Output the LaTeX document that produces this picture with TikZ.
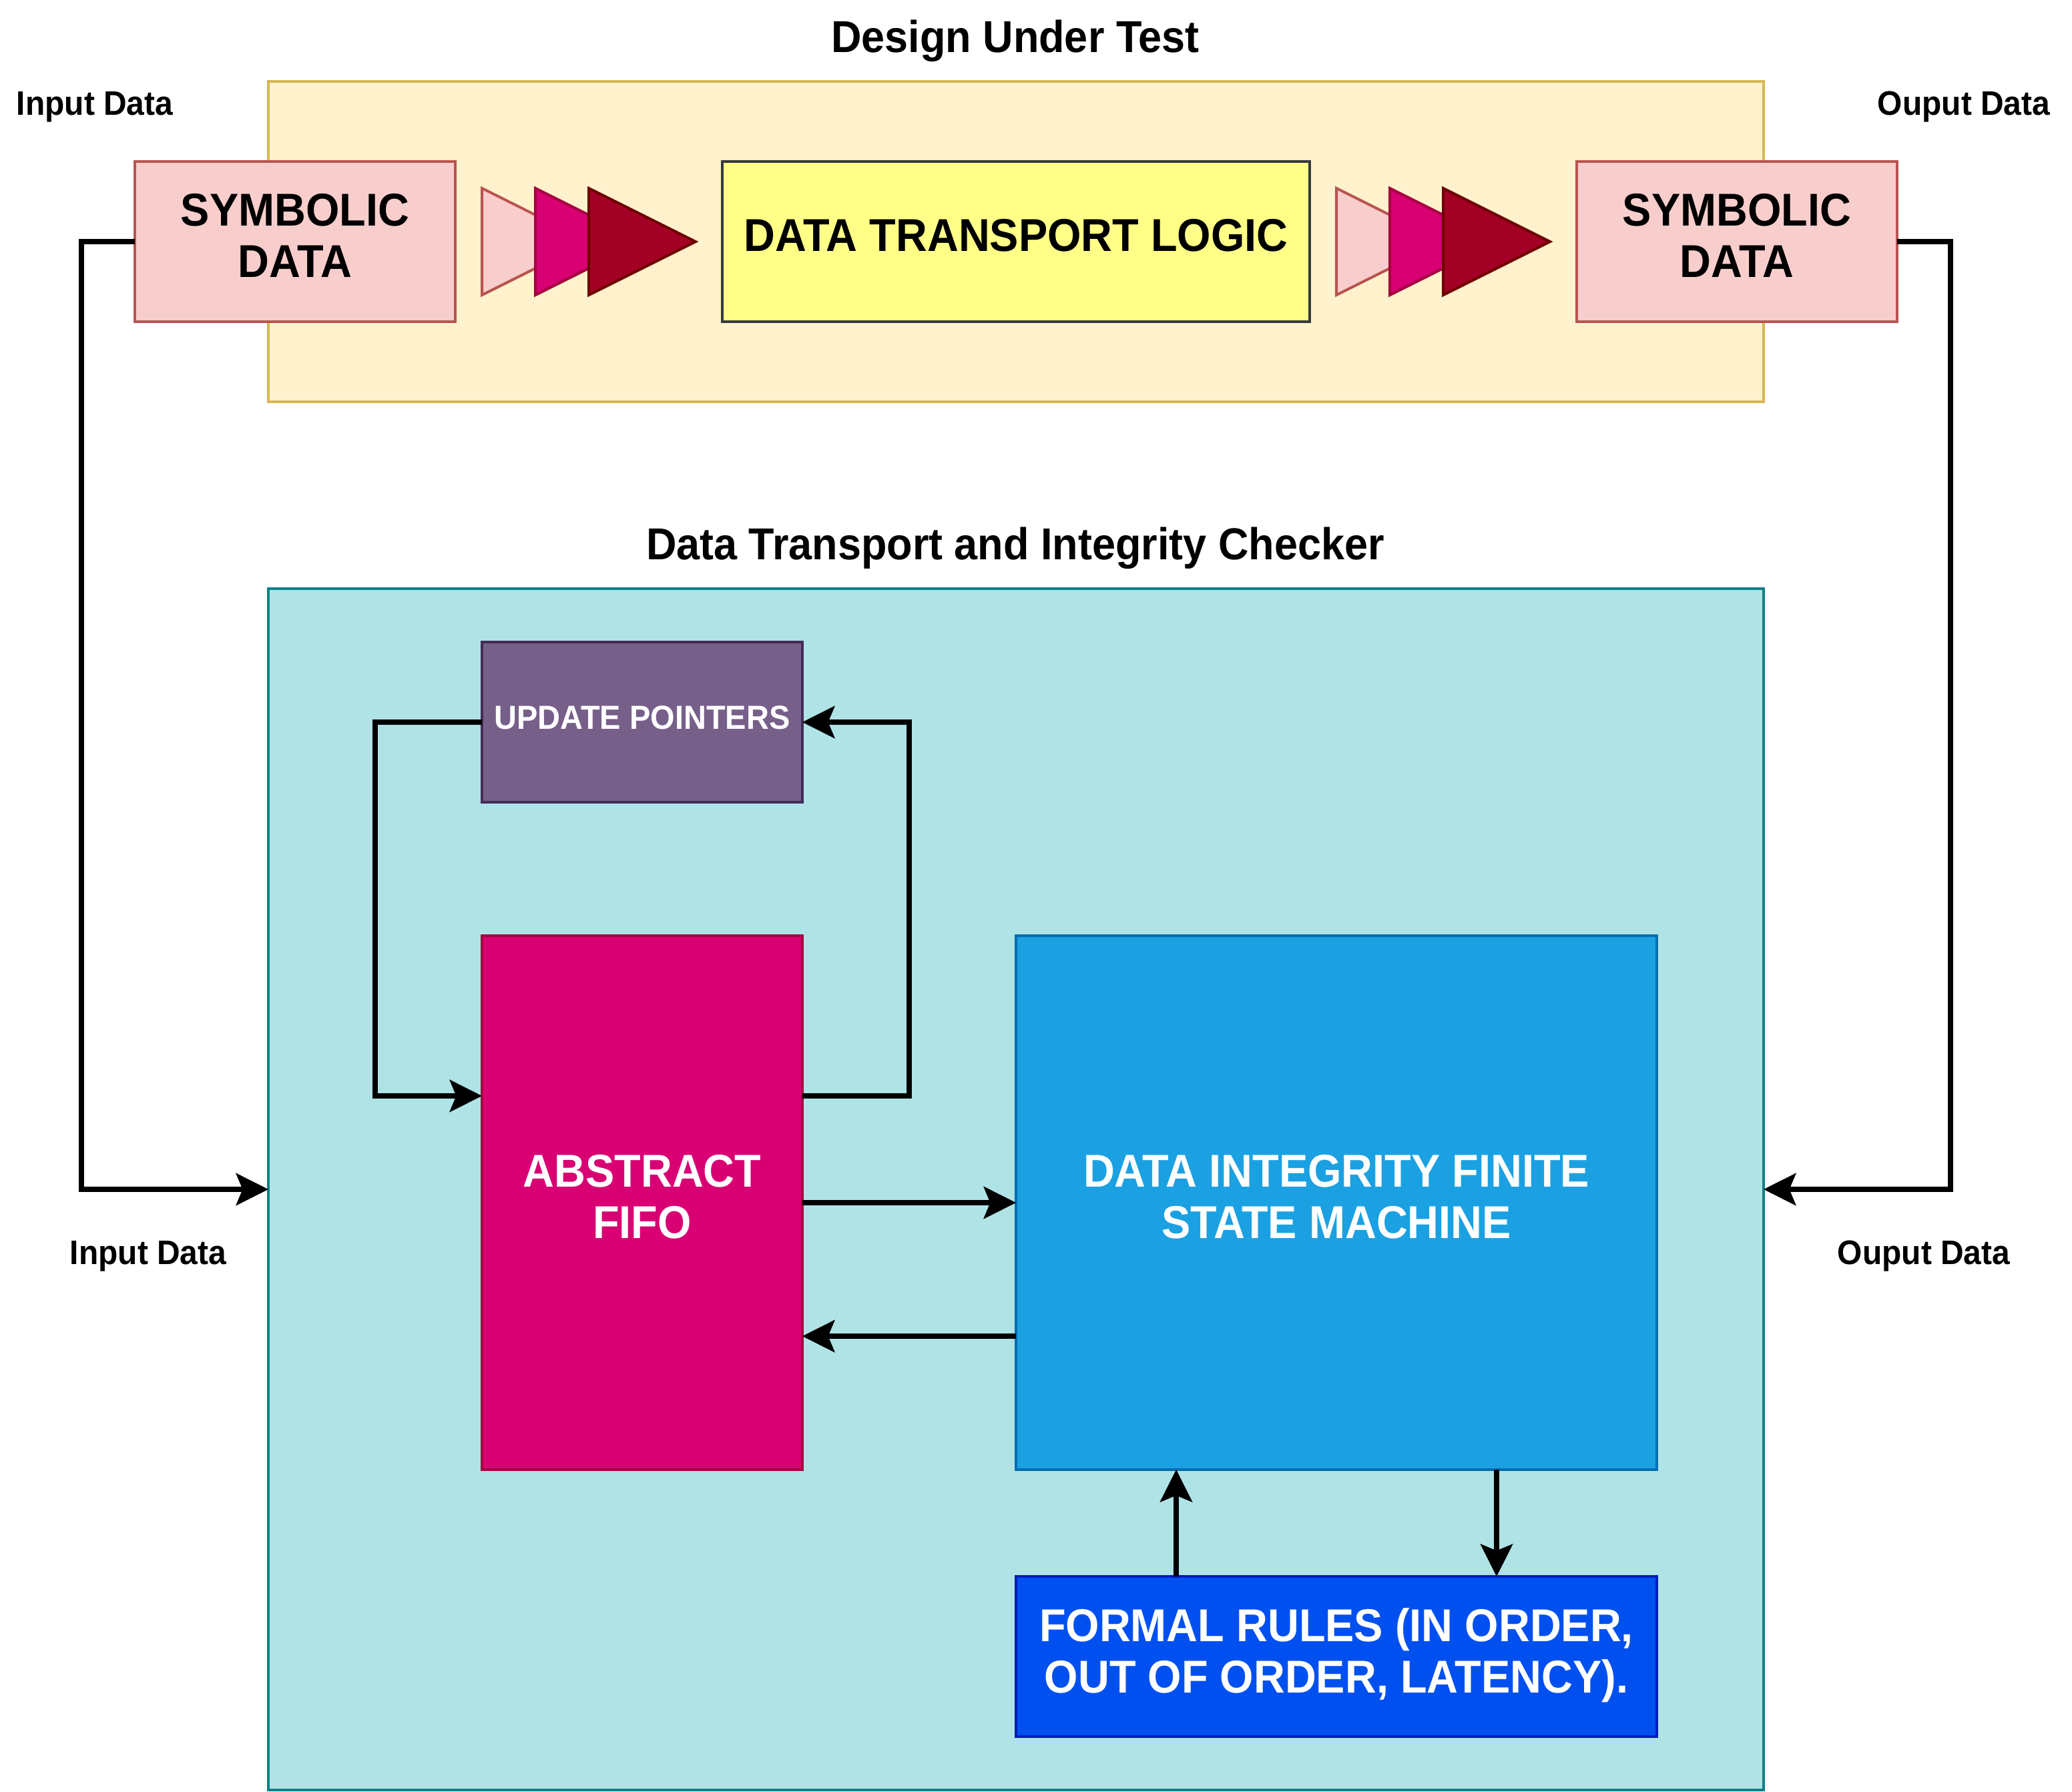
\documentclass[tikz,border=0pt]{standalone}
\usepackage{fontspec}
\setmainfont{Liberation Sans}[FakeStretch=0.94]
\usetikzlibrary{arrows.meta,calc}
\definecolor{dutfill}{HTML}{FFF2CC}
\definecolor{dutline}{HTML}{D6B656}
\definecolor{symfill}{HTML}{F8CECC}
\definecolor{symline}{HTML}{B85450}
\definecolor{magfill}{HTML}{D80073}
\definecolor{magline}{HTML}{A50040}
\definecolor{redfill}{HTML}{A20025}
\definecolor{redline}{HTML}{6F0000}
\definecolor{dtlfill}{HTML}{FFFF88}
\definecolor{dtlline}{HTML}{36393D}
\definecolor{chkfill}{HTML}{B0E3E6}
\definecolor{chkline}{HTML}{0E8088}
\definecolor{updfill}{HTML}{76608A}
\definecolor{updline}{HTML}{432D57}
\definecolor{fsmfill}{HTML}{1BA1E2}
\definecolor{fsmline}{HTML}{006EAF}
\definecolor{rulfill}{HTML}{0050EF}
\definecolor{rulline}{HTML}{001DBC}
\begin{document}
\begin{tikzpicture}[x=1pt,y=-1pt,
  box/.style={rectangle,draw,line width=2pt,inner sep=0pt,outer sep=0pt},
  boxlbl/.style={font=\fontsize{34.5}{38.4}\selectfont\bfseries,align=center,inner sep=0pt},
  smalllbl/.style={font=\fontsize{25.5}{30}\selectfont\bfseries,inner sep=0pt,anchor=base},
  titlelbl/.style={font=\fontsize{33.5}{40}\selectfont\bfseries,inner sep=0pt,anchor=base},
  conn/.style={line width=3.8pt,line join=miter,-{Stealth[length=24.5pt,width=24.7pt,inset=5.2pt,line width=0pt]}},
  tri/.style={line width=2pt,line join=miter},
]
\fill[white] (0,0) rectangle (1552,1342);
\useasboundingbox (0,0) rectangle (1552,1342);

% containers
\node[box,draw=dutline,fill=dutfill,minimum width=1120pt,minimum height=240pt] (dut) at (761,181) {};
\node[titlelbl] (duttitle) at (760.5,39) {Design Under Test};
\node[box,draw=chkline,fill=chkfill,minimum width=1120pt,minimum height=900pt] (chk) at (761,891) {};
\node[titlelbl] (chktitle) at (760.5,419) {Data Transport and Integrity Checker};

% top row
\node[box,draw=symline,fill=symfill,minimum width=240pt,minimum height=120pt] (symL) at (221,181) {};
\node[boxlbl] (symLtxt) at ([yshift=4.5pt]symL.center) {SYMBOLIC\\DATA};
\node[box,draw=dtlline,fill=dtlfill,minimum width=440pt,minimum height=120pt] (dtl) at (761,181) {};
\node[boxlbl] (dtltxt) at ([yshift=4.5pt]dtl.center) {DATA TRANSPORT LOGIC};
\node[box,draw=symline,fill=symfill,minimum width=240pt,minimum height=120pt] (symR) at (1301,181) {};
\node[boxlbl] (symRtxt) at ([yshift=4.5pt]symR.center) {SYMBOLIC\\DATA};

\foreach \x/\f/\d in {361/symfill/symline,401/magfill/magline,441/redfill/redline,1001/symfill/symline,1041/magfill/magline,1081/redfill/redline}{
  \filldraw[tri,fill=\f,draw=\d] (\x,141) -- (\x+80,181) -- (\x,221) -- cycle;
}

% checker contents
\node[box,draw=updline,fill=updfill,minimum width=240pt,minimum height=120pt] (upd) at (481,541) {};
\node[boxlbl,text=white,font=\fontsize{25}{30}\selectfont\bfseries] (updtxt) at ([yshift=3.5pt]upd.center) {UPDATE POINTERS};
\node[box,draw=magline,fill=magfill,minimum width=240pt,minimum height=400pt] (fifo) at (481,901) {};
\node[boxlbl,text=white] (fifotxt) at ([yshift=4.5pt]fifo.center) {ABSTRACT\\FIFO};
\node[box,draw=fsmline,fill=fsmfill,minimum width=480pt,minimum height=400pt] (fsm) at (1001,901) {};
\node[boxlbl,text=white] (fsmtxt) at ([yshift=4.5pt]fsm.center) {DATA INTEGRITY FINITE\\STATE MACHINE};
\node[box,draw=rulline,fill=rulfill,minimum width=480pt,minimum height=120pt] (rules) at (1001,1241) {};
\node[boxlbl,text=white] (rulestxt) at ([yshift=1pt]rules.center) {FORMAL RULES (IN ORDER,\\OUT OF ORDER, LATENCY).};

% side labels
\node[smalllbl] (inTop) at (71,86) {Input Data};
\node[smalllbl] (outTop) at (1471,86) {Ouput Data};
\node[smalllbl] (inBot) at (111,947) {Input Data};
\node[smalllbl] (outBot) at (1441,947) {Ouput Data};

% connectors
\draw[conn] (symL.west) -- ++(-40,0) |- (chk.west);
\draw[conn] (symR.east) -- ++(40,0) |- (chk.east);
\coordinate (fifoUpIn) at ($(fifo.north west)!0.3!(fifo.south west)$);
\coordinate (fifoUpOut) at ($(fifo.north east)!0.3!(fifo.south east)$);
\draw[conn] (upd.west) -- ++(-80,0) |- (fifoUpIn);
\draw[conn] (fifoUpOut) -- ++(80,0) |- (upd.east);
\draw[conn] (fifo.east) -- (fsm.west);
\coordinate (fsmBack) at ($(fsm.north west)!0.75!(fsm.south west)$);
\draw[conn] (fsmBack) -- (fsmBack -| fifo.east);
\coordinate (rulesUp) at ($(rules.north west)!0.25!(rules.north east)$);
\draw[conn] (rulesUp) -- (rulesUp |- fsm.south);
\coordinate (fsmDown) at ($(fsm.south west)!0.75!(fsm.south east)$);
\draw[conn] (fsmDown) -- (fsmDown |- rules.north);
\end{tikzpicture}
\end{document}
